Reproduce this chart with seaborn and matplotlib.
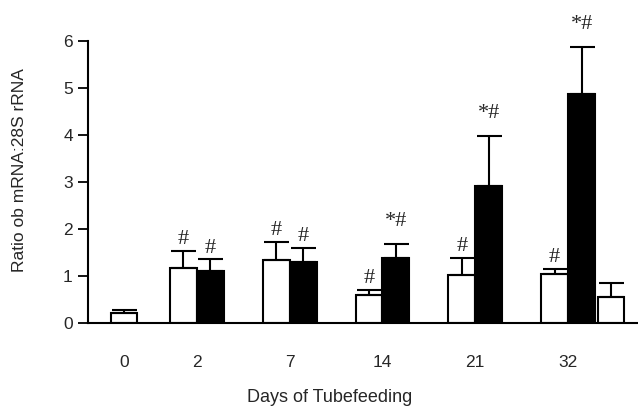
import numpy as np
import pandas as pd
import matplotlib
matplotlib.use('Agg')
import matplotlib.pyplot as plt
import seaborn as sns

# Werte
days = ['0', '2', '7', '14', '21', '32']
ctrl_mean = [0.23, 1.17, 1.35, 0.60, 1.04, 1.05]
ctrl_err = [0.05, 0.37, 0.38, 0.12, 0.36, 0.11]
ctrl_mark = ['', '#', '#', '#', '#', '#']

tube_days = ['2', '7', '14', '21', '32']
tube_mean = [1.11, 1.30, 1.40, 2.92, 4.87]
tube_err = [0.25, 0.31, 0.28, 1.07, 1.00]
tube_mark = ['#', '#', '*#', '*#', '*#']

extra_day = '32'
extra_mean = 0.57
extra_err = 0.28

sns.set_theme(style='white')
plt.rcParams['font.family'] = ['Liberation Sans', 'DejaVu Sans']

# Positionen der Gruppen auf der x-Achse
center = {d: float(i) for i, d in enumerate(days)}
center['0'] = 0.215
half = 0.145

rows = []
for d, m, e, k in zip(days, ctrl_mean, ctrl_err, ctrl_mark):
    p = center[d] if d == '0' else center[d] - half
    rows.append((p, m, e, 'ctrl', k))
for d, m, e, k in zip(tube_days, tube_mean, tube_err, tube_mark):
    rows.append((center[d] + half, m, e, 'tube', k))
rows.append((center[extra_day] + 3 * half + 0.027, extra_mean, extra_err, 'ctrl', ''))
df = pd.DataFrame(rows, columns=['pos', 'val', 'err', 'group', 'mark'])

fig, ax = plt.subplots(figsize=(6.38, 4.11), dpi=100)
fig.subplots_adjust(left=0.138, right=1.0, bottom=0.213, top=0.90)

sns.barplot(data=df, x='pos', y='val', hue='group',
            palette={'ctrl': 'white', 'tube': 'black'},
            native_scale=True, dodge=False, width=1.0, saturation=1,
            edgecolor='black', linewidth=1.5, errorbar=None,
            legend=False, ax=ax)

ax.errorbar(df['pos'], df['val'], yerr=[np.zeros(len(df)), df['err']],
            fmt='none', ecolor='black', elinewidth=1.5, capsize=9,
            capthick=1.5, zorder=3)

for _, r in df.iterrows():
    if r['mark']:
        off = 13 if r['mark'].startswith('*') else 5
        ax.annotate(r['mark'], (r['pos'], r['val'] + r['err']),
                    xytext=(0, off), textcoords='offset points',
                    ha='center', va='baseline', fontsize=16,
                    family=['Liberation Serif', 'DejaVu Serif'])

ax.set_xlim(-0.172, 5.753)
ax.set_ylim(0, 6)
ax.set_yticks(range(7))
ax.set_xticks([center[d] for d in days])
ax.set_xticklabels(days)

for s in ['top', 'right']:
    ax.spines[s].set_visible(False)
for s in ['left', 'bottom']:
    ax.spines[s].set_color('black')
    ax.spines[s].set_linewidth(1.5)

ax.tick_params(axis='y', direction='out', length=7, width=1.3,
               color='black', pad=4, labelsize=12.5, left=True)
ax.tick_params(axis='x', length=0, pad=23, labelsize=12.5)

ax.set_xlabel('Days of Tubefeeding', fontsize=13)
ax.set_ylabel('Ratio ob mRNA:28S rRNA', fontsize=12.5)
ax.xaxis.set_label_coords(0.44, -0.232)
ax.yaxis.set_label_coords(-0.111, 0.543)

plt.savefig('out.png', dpi=100)
plt.close()
